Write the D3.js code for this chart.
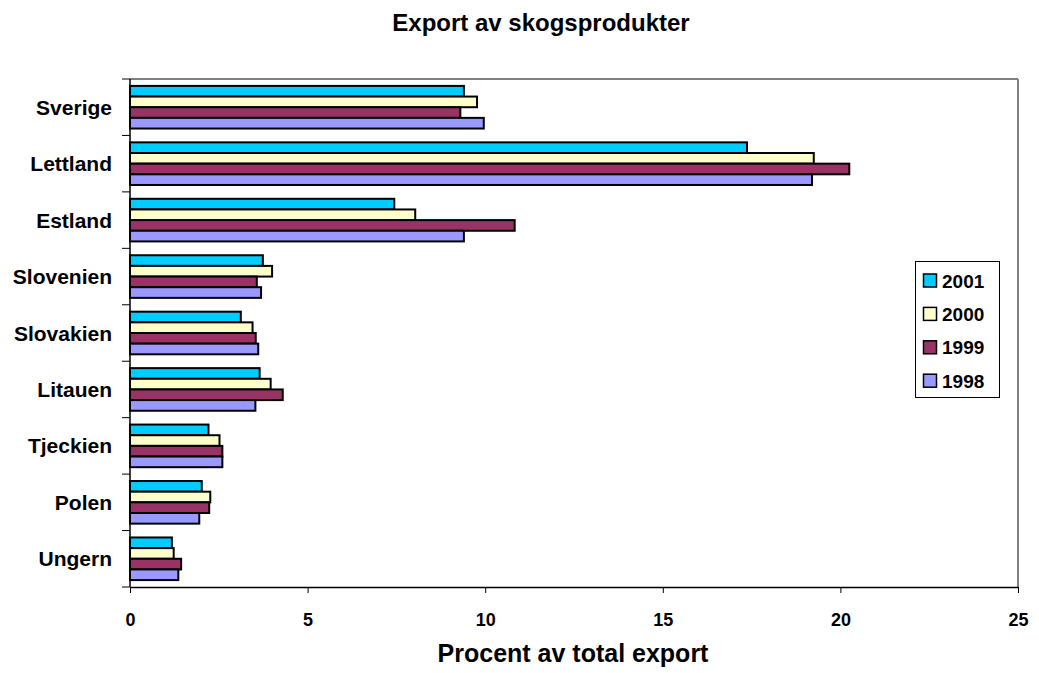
<!DOCTYPE html>
<html><head><meta charset="utf-8">
<script src="https://cdn.jsdelivr.net/npm/d3@7"></script>
<style>body{margin:0;background:#fff;} svg{font-family:Arial,"Liberation Sans",sans-serif;font-weight:bold;}</style>
</head><body>
<svg id="c" width="1039" height="673"></svg>
<script>
const categories = ["Sverige","Lettland","Estland","Slovenien","Slovakien","Litauen","Tjeckien","Polen","Ungern"];
const seriesNames = ["2001","2000","1999","1998"];
const v2001 = [9.40,17.37,7.44,3.74,3.12,3.65,2.21,2.02,1.18];
const v2000 = [9.77,19.25,8.03,4.00,3.45,3.96,2.52,2.26,1.23];
const v1999 = [9.30,20.25,10.83,3.57,3.54,4.30,2.60,2.23,1.44];
const v1998 = [9.96,19.20,9.40,3.69,3.61,3.53,2.60,1.95,1.36];
const xTicks = [0,5,10,15,20,25];
const colors = ["#00CCFF","#FFFFCC","#993366","#9999FF"];

const seriesValues = [v2001,v2000,v1999,v1998];
const svg = d3.select("#c");
const L=130, R=1018, T=79, B=587;

const x = d3.scaleLinear().domain([0,25]).range([L,R]);
const y = d3.scaleBand().domain(categories).range([T,B]).paddingInner(0.245).paddingOuter(0.1225);
const ys = d3.scaleBand().domain(seriesNames).range([0,y.bandwidth()]);

// plot border (top/right gray)
svg.append("line").attr("x1",L).attr("x2",R).attr("y1",T).attr("y2",T).attr("stroke","#808080").attr("stroke-width",2);
svg.append("line").attr("x1",R).attr("x2",R).attr("y1",T).attr("y2",B).attr("stroke","#808080").attr("stroke-width",2);

// bars
categories.forEach((c,i)=>{
  seriesNames.forEach((s,j)=>{
    svg.append("rect")
      .attr("x",x(0))
      .attr("y",y(c)+ys(s))
      .attr("width",x(seriesValues[j][i])-x(0))
      .attr("height",ys.bandwidth())
      .attr("fill",colors[j]).attr("stroke","#000").attr("stroke-width",2);
  });
});

// x axis
const xa = svg.append("g").attr("transform",`translate(0,${B})`)
  .call(d3.axisBottom(x).tickValues(xTicks).tickSize(6).tickPadding(20).tickSizeOuter(0));
xa.attr("font-size",18).attr("font-family",null);
xa.select(".domain").attr("stroke","#000").attr("stroke-width",1.5);
xa.selectAll(".tick line").attr("stroke","#000");
xa.selectAll("text").style("font-size","18px").style("font-weight","bold").attr("fill","#000").style("font-family","Arial,'Liberation Sans',sans-serif");

// y axis
svg.append("line").attr("x1",L).attr("x2",L).attr("y1",T).attr("y2",B).attr("stroke","#000").attr("stroke-width",1.5);
const step = (B-T)/categories.length;
d3.range(categories.length+1).forEach(k=>{
  svg.append("line").attr("x1",L-8).attr("x2",L).attr("y1",T+k*step).attr("y2",T+k*step).attr("stroke","#000").attr("stroke-width",1);
});
categories.forEach(c=>{
  svg.append("text").attr("x",112).attr("y",y(c)+y.bandwidth()/2+7.5)
    .attr("text-anchor","end").attr("font-size",21).text(c);
});

// titles
svg.append("text").attr("x",541).attr("y",31).attr("text-anchor","middle").attr("font-size",24).text("Export av skogsprodukter");
svg.append("text").attr("x",573).attr("y",662).attr("text-anchor","middle").attr("font-size",25).text("Procent av total export");

// legend
const lg = svg.append("g");
lg.append("rect").attr("x",915.5).attr("y",261.5).attr("width",84).attr("height",136).attr("fill","#fff").attr("stroke","#000").attr("stroke-width",1);
seriesNames.forEach((s,j)=>{
  const cy = 280.5 + j*33.4;
  lg.append("rect").attr("x",923.5).attr("y",cy-6.5).attr("width",13).attr("height",13).attr("fill",colors[j]).attr("stroke","#000").attr("stroke-width",1.5);
  lg.append("text").attr("x",942).attr("y",cy+7).attr("font-size",19).text(s);
});
</script>
</body></html>
